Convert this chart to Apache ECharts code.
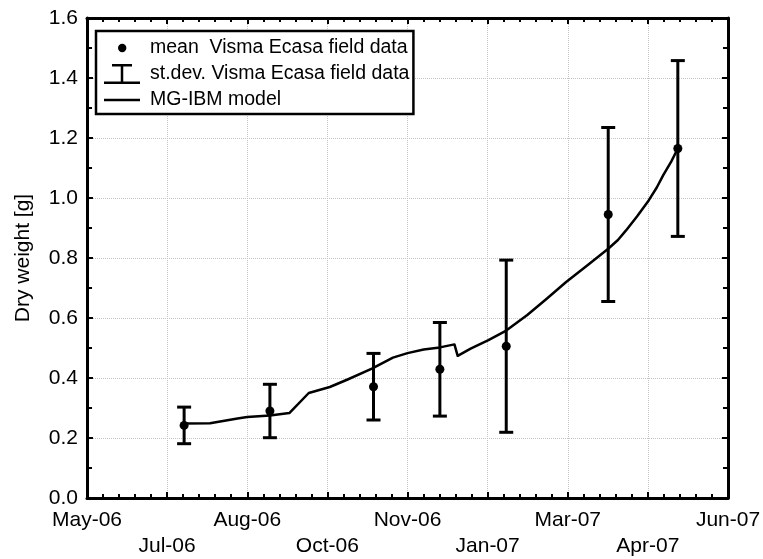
<!DOCTYPE html>
<html><head><meta charset="utf-8">
<script src="https://cdn.jsdelivr.net/npm/echarts@6/dist/echarts.min.js"></script>
<style>html,body{margin:0;padding:0;background:#fff}#c{width:763px;height:559px}</style>
</head><body><div id="c"></div>
<script>
// ---- data ----
const axisStart = '2006-05-14';     // left edge of the date axis
const axisSpanDays = 396;           // May-06 ... Jun-07
const tickStepDays = 49.5;
const monthNames = ['Jan','Feb','Mar','Apr','May','Jun','Jul','Aug','Sep','Oct','Nov','Dec'];

const sampleDates = ['2006-07-13','2006-09-04','2006-11-07','2006-12-18','2007-01-28','2007-04-01','2007-05-14'];
const meanWeight  = [0.242, 0.290, 0.371, 0.429, 0.506, 0.945, 1.165];
const sdWeight    = [0.061, 0.089, 0.111, 0.156, 0.287, 0.290, 0.293];

const modelDates = ['2006-07-13','2006-07-29','2006-08-15','2006-08-21','2006-09-04','2006-09-16','2006-09-28',
  '2006-10-11','2006-10-22','2006-11-06','2006-11-19','2006-11-28','2006-12-08','2006-12-18','2006-12-27',
  '2006-12-29','2007-01-06','2007-01-17','2007-01-28','2007-02-10','2007-02-22','2007-03-06','2007-03-19',
  '2007-04-01','2007-04-07','2007-04-12','2007-04-19','2007-04-26','2007-05-01','2007-05-05','2007-05-10','2007-05-14'];
const modelWeight = [0.248,0.249,0.265,0.270,0.275,0.283,0.350,
  0.370,0.395,0.431,0.468,0.483,0.495,0.502,0.512,
  0.474,0.498,0.526,0.558,0.610,0.664,0.720,0.775,
  0.831,0.860,0.892,0.940,0.992,1.035,1.076,1.122,1.165];

const legendNames = ['mean  Visma Ecasa field data','st.dev. Visma Ecasa field data','MG-IBM model'];

// ---- helpers ----
const DAY = 86400000;
const t0 = Date.parse(axisStart + 'T00:00:00Z');
const toDay = d => (Date.parse(d + 'T00:00:00Z') - t0) / DAY;
const fmtDate = v => {
  const d = new Date(t0 + v * DAY);
  return monthNames[d.getUTCMonth()] + '-' + String(d.getUTCFullYear() % 100).padStart(2, '0');
};

const FONT = 'Liberation Sans, Arial, Helvetica, sans-serif';
const errData = sampleDates.map((d, i) => [toDay(d), meanWeight[i], sdWeight[i]]);
const meanData = sampleDates.map((d, i) => [toDay(d), meanWeight[i]]);
const modelData = modelDates.map((d, i) => [toDay(d), modelWeight[i]]);

const frame = {show: true, onZero: false, lineStyle: {color: '#000', width: 3}};
const grid = {left: 87, right: 35, top: 18, bottom: 61, outerBoundsMode: 'none'};

const xBase = {type: 'value', min: 0, max: axisSpanDays, interval: tickStepDays,
  axisLine: frame,
  axisTick: {show: true, inside: true, length: 6, lineStyle: {color: '#000', width: 2}},
  minorTick: {show: true, splitNumber: 5, length: 4, lineStyle: {color: '#000', width: 2}}};
const yBase = {type: 'value', min: 0, max: 1.6, interval: 0.2,
  axisLine: frame,
  axisTick: {show: true, inside: true, length: 6, lineStyle: {color: '#000', width: 2}},
  minorTick: {show: true, splitNumber: 2, length: 5, lineStyle: {color: '#000', width: 2}}};

const chart = echarts.init(document.getElementById('c'), null, {renderer: 'canvas'});
chart.setOption({
  animation: false,
  backgroundColor: '#fff',
  grid,
  legend: {
    orient: 'vertical', left: 96, top: 31,
    padding: [7, 4, 4, 8], itemGap: 6, itemWidth: 41, itemHeight: 20,
    backgroundColor: '#fff', borderColor: '#000', borderWidth: 2.5, borderRadius: 0,
    itemStyle: {borderWidth: 0, opacity: 1},
    textStyle: {fontFamily: FONT, fontSize: 19.5, color: '#000', lineHeight: 20},
    selectedMode: false,
    data: [
      {name: legendNames[0], icon: 'path://M0,0M41,20M14,10a4.2,4.2 0 1,0 8.4,0a4.2,4.2 0 1,0 -8.4,0z'},
      {name: legendNames[1], icon: 'path://M0,0M41,20M8,0h20v2.5h-20zM16.75,0h2.5v20h-2.5zM0,17.5h36v2.5h-36z'},
      {name: legendNames[2], icon: 'path://M0,0M41,20M0,8.75h36v2.5h-36z'}
    ]
  },
  xAxis: [
    Object.assign({}, xBase, {position: 'bottom',
      axisLabel: {show: true, margin: 9, color: '#000', fontFamily: FONT, fontSize: 21, lineHeight: 26,
        formatter: (v, i) => (i % 2 ? '\n' : '') + fmtDate(v)},
      splitLine: {show: true, lineStyle: {color: '#c4c4c4', width: 1, type: 'dotted'}}}),
    Object.assign({}, xBase, {position: 'top', axisLabel: {show: false}, splitLine: {show: false}})
  ],
  yAxis: [
    Object.assign({}, yBase, {position: 'left',
      name: 'Dry weight [g]', nameLocation: 'middle', nameGap: 53,
      nameTextStyle: {fontFamily: FONT, fontSize: 21, color: '#000'},
      axisLabel: {show: true, margin: 9, color: '#000', fontFamily: FONT, fontSize: 21,
        formatter: v => v.toFixed(1)},
      splitLine: {show: true, lineStyle: {color: '#c4c4c4', width: 1, type: 'dotted'}}}),
    Object.assign({}, yBase, {position: 'right', axisLabel: {show: false}, splitLine: {show: false}})
  ],
  series: [
    {
      name: legendNames[1], type: 'custom', xAxisIndex: 0, yAxisIndex: 0,
      itemStyle: {color: '#000'},
      encode: {x: 0, y: 1},
      data: errData,
      renderItem: (params, api) => {
        const x = api.value(0), m = api.value(1), s = api.value(2);
        const hi = api.coord([x, m + s]);
        const lo = api.coord([x, m - s]);
        const cap = 7;
        const style = {stroke: '#000', lineWidth: 3, fill: null};
        return {type: 'group', children: [
          {type: 'line', shape: {x1: hi[0], y1: hi[1], x2: lo[0], y2: lo[1]}, style},
          {type: 'line', shape: {x1: hi[0] - cap, y1: hi[1], x2: hi[0] + cap, y2: hi[1]}, style},
          {type: 'line', shape: {x1: lo[0] - cap, y1: lo[1], x2: lo[0] + cap, y2: lo[1]}, style}
        ]};
      }
    },
    {
      name: legendNames[2], type: 'line', xAxisIndex: 0, yAxisIndex: 0,
      data: modelData, symbol: 'none', smooth: false,
      itemStyle: {color: '#000'},
      lineStyle: {color: '#000', width: 2.5, join: 'round'}
    },
    {
      name: legendNames[0], type: 'scatter', xAxisIndex: 0, yAxisIndex: 0,
      data: meanData, symbol: 'circle', symbolSize: 9,
      itemStyle: {color: '#000', opacity: 1}, z: 5
    }
  ]
});
</script>
</body></html>
